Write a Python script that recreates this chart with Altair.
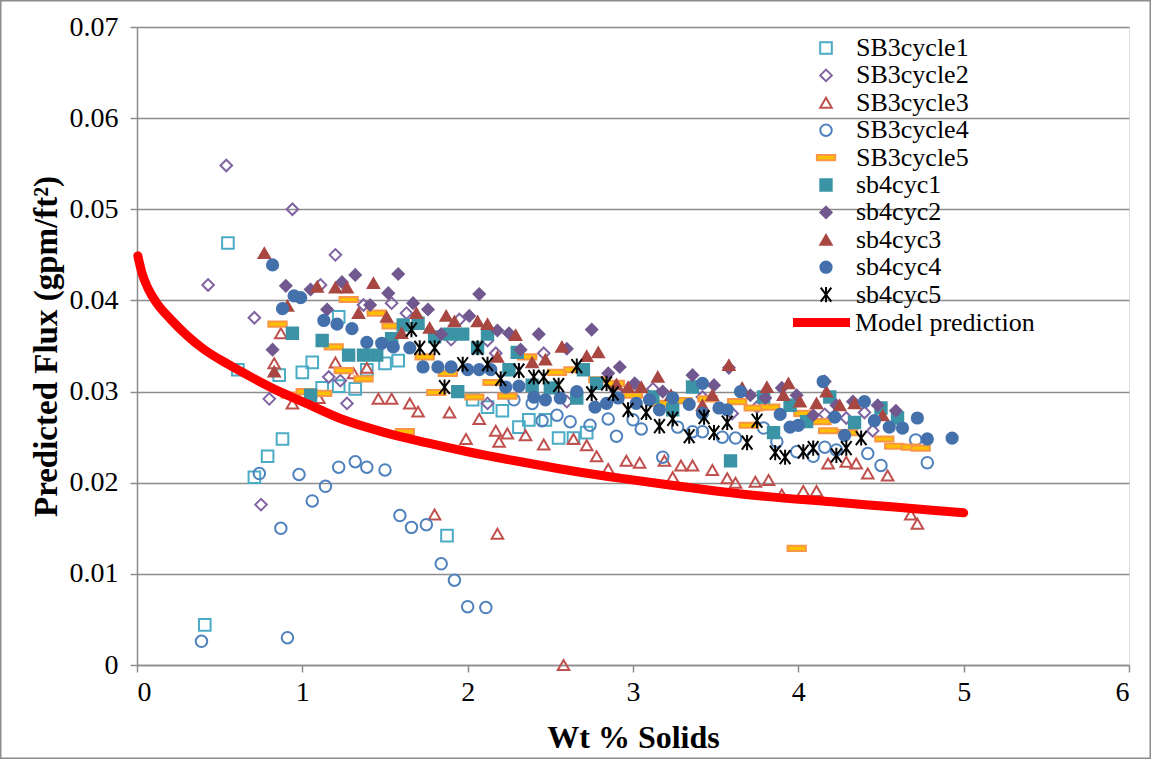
import altair as alt
import pandas as pd

# ---------------- data ----------------
series_names = ["SB3cycle1", "SB3cycle2", "SB3cycle3", "SB3cycle4", "SB3cycle5",
                "sb4cyc1", "sb4cyc2", "sb4cyc3", "sb4cyc4", "sb4cyc5"]

sb3c1_x = [0.41, 0.55, 0.61, 0.71, 0.79, 0.86, 0.88, 1.0, 1.06, 1.12, 1.22, 1.22, 1.32, 1.39, 1.5, 1.58,
           1.875, 2.03, 2.12, 2.21, 2.31, 2.37, 2.47, 2.55, 2.64, 2.72]
sb3c1_y = [0.0044, 0.0463, 0.0324, 0.0206, 0.0229, 0.0318, 0.0248, 0.0321, 0.0332, 0.0304, 0.0306, 0.0382,
           0.0303, 0.0324, 0.0331, 0.0334, 0.0142, 0.0291, 0.0283, 0.0279, 0.0261, 0.0269, 0.0269, 0.0249,
           0.0249, 0.0255]

sb3c2_x = [0.43, 0.54, 0.71, 0.75, 0.80, 0.94, 1.11, 1.16, 1.2, 1.23, 1.27, 1.37, 1.54, 1.63, 1.9, 1.95,
           2.12, 2.12, 2.17, 2.46, 2.6, 2.9, 3.12, 3.42, 3.6, 3.75, 4.16, 4.29, 4.4, 4.45]
sb3c2_y = [0.0417, 0.0548, 0.0381, 0.0176, 0.0292, 0.0500, 0.0417, 0.0316, 0.0450, 0.0312, 0.0287, 0.0395,
           0.0397, 0.0386, 0.0357, 0.0379, 0.0356, 0.0287, 0.0342, 0.0342, 0.0289, 0.0300, 0.0303, 0.0294,
           0.0276, 0.0283, 0.0275, 0.0271, 0.0277, 0.0257]

sb3c3_x = [0.83, 0.87, 0.94, 1.1, 1.2, 1.31, 1.39, 1.46, 1.54, 1.65, 1.7, 1.8, 1.89, 1.99, 2.07, 2.17, 2.18,
           2.19, 2.24, 2.35, 2.46, 2.58, 2.64, 2.72, 2.78, 2.85, 2.96, 3.04, 3.19, 3.24, 3.29, 3.36, 3.48,
           3.57, 3.62, 3.74, 3.82, 3.9, 4.03, 4.11, 4.18, 4.29, 4.35, 4.42, 4.54, 4.68, 4.72]
sb3c3_y = [0.0331, 0.0364, 0.0287, 0.0293, 0.0332, 0.0320, 0.0326, 0.0292, 0.0292, 0.0287, 0.0278, 0.0165,
           0.0277, 0.0248, 0.0270, 0.0257, 0.0144, 0.0245, 0.0254, 0.0252, 0.0242, 0.0, 0.0248, 0.0241,
           0.0229, 0.0215, 0.0224, 0.0222, 0.0224, 0.0206, 0.0219, 0.0219, 0.0214, 0.0205, 0.0200, 0.0201,
           0.0203, 0.0187, 0.0191, 0.0191, 0.0221, 0.0223, 0.0221, 0.0210, 0.0208, 0.0165, 0.0155]

sb3c4_x = [0.39, 0.74, 0.87, 0.91, 0.98, 1.06, 1.14, 1.22, 1.32, 1.39, 1.5, 1.59, 1.66, 1.75, 1.84, 1.92,
           2.0, 2.11, 2.28, 2.39, 2.45, 2.54, 2.62, 2.74, 2.85, 2.9, 3.0, 3.05, 3.18, 3.27, 3.36, 3.42,
           3.54, 3.62, 3.79, 3.87, 3.99, 4.09, 4.16, 4.23, 4.42, 4.5, 4.71, 4.78]
sb3c4_y = [0.0026, 0.0210, 0.0150, 0.0030, 0.0209, 0.0180, 0.0196, 0.0217, 0.0223, 0.0217, 0.0214, 0.0164,
           0.0151, 0.0154, 0.0111, 0.0093, 0.0064, 0.0063, 0.0291, 0.0287, 0.0268, 0.0274, 0.0267, 0.0263,
           0.0270, 0.0251, 0.0269, 0.0259, 0.0228, 0.0261, 0.0256, 0.0256, 0.0250, 0.0249, 0.0260, 0.0245,
           0.0234, 0.0229, 0.0239, 0.0236, 0.0232, 0.0219, 0.0247, 0.0222]

sb3c5_x = [0.85, 0.93, 1.02, 1.12, 1.19, 1.25, 1.28, 1.37, 1.45, 1.54, 1.62, 1.74, 1.81, 1.88, 2.04, 2.15,
           2.24, 2.36, 2.54, 2.64, 2.79, 2.89, 3.0, 3.16, 3.3, 3.45, 3.63, 3.7, 3.73, 3.83, 3.99, 4.03,
           4.14, 4.18, 4.3, 4.52, 4.58, 4.68, 4.74]
sb3c5_y = [0.0374, 0.0296, 0.0300, 0.0298, 0.0349, 0.0323, 0.0401, 0.0314, 0.0386, 0.0372, 0.0256, 0.0338,
           0.0299, 0.0320, 0.0294, 0.0310, 0.0295, 0.0338, 0.0321, 0.0324, 0.0313, 0.0309, 0.0296, 0.0287,
           0.0290, 0.0292, 0.0289, 0.0263, 0.0282, 0.0283, 0.0128, 0.0276, 0.0267, 0.0257, 0.0255, 0.0248,
           0.0240, 0.0239, 0.0238]

sb4c1_x = [0.94, 1.05, 1.12, 1.28, 1.37, 1.45, 1.54, 1.61, 1.7, 1.8, 1.89, 1.94, 1.97, 2.06, 2.12, 2.25,
           2.3, 2.39, 2.5, 2.66, 2.7, 2.78, 3.12, 3.24, 3.36, 3.59, 3.79, 3.85, 3.95, 4.05, 4.19, 4.34,
           4.5, 4.6]
sb4c1_y = [0.0364, 0.0296, 0.0356, 0.0340, 0.0340, 0.0340, 0.0358, 0.0373, 0.0375, 0.0360, 0.0363, 0.0300,
           0.0363, 0.0348, 0.0363, 0.0324, 0.0343, 0.0307, 0.0304, 0.0293, 0.0324, 0.0309, 0.0294, 0.0280,
           0.0305, 0.0224, 0.0294, 0.0255, 0.0285, 0.0267, 0.0294, 0.0266, 0.0282, 0.0271]

sb4c2_x = [0.82, 0.9, 1.05, 1.15, 1.24, 1.32, 1.41, 1.52, 1.58, 1.67, 1.76, 1.84, 2.01, 2.07, 2.18, 2.25,
           2.32, 2.43, 2.6, 2.75, 2.85, 2.92, 3.01, 3.18, 3.36, 3.49, 3.58, 3.71, 3.8, 3.9, 3.99, 4.09,
           4.16, 4.23, 4.33, 4.48, 4.59]
sb4c2_y = [0.0346, 0.0416, 0.0412, 0.0390, 0.0420, 0.0428, 0.0395, 0.0408, 0.0429, 0.0397, 0.0390, 0.0363,
           0.0383, 0.0407, 0.0367, 0.0364, 0.0346, 0.0363, 0.0347, 0.0368, 0.0320, 0.0327, 0.0309, 0.0300,
           0.0318, 0.0307, 0.0326, 0.0296, 0.0293, 0.0304, 0.0296, 0.0274, 0.0311, 0.0285, 0.0289, 0.0285,
           0.0279]

sb4c3_x = [0.77, 0.83, 0.91, 1.09, 1.2, 1.27, 1.34, 1.43, 1.51, 1.6, 1.69, 1.77, 1.87, 1.92, 2.06, 2.12,
           2.18, 2.29, 2.39, 2.47, 2.57, 2.72, 2.79, 2.9, 2.97, 3.05, 3.15, 3.23, 3.42, 3.48, 3.58, 3.66,
           3.81, 3.91, 3.94, 4.01, 4.11, 4.17, 4.25, 4.34, 4.51]
sb4c3_y = [0.0452, 0.0322, 0.0394, 0.0415, 0.0414, 0.0414, 0.0386, 0.0419, 0.0382, 0.0364, 0.0386, 0.0370,
           0.0383, 0.0377, 0.0377, 0.0374, 0.0338, 0.0362, 0.0332, 0.0335, 0.0349, 0.0339, 0.0343, 0.0308,
           0.0305, 0.0305, 0.0316, 0.0296, 0.0285, 0.0296, 0.0329, 0.0304, 0.0305, 0.0296, 0.0309, 0.0289,
           0.0287, 0.0300, 0.0285, 0.0287, 0.0274]

sb4c4_x = [0.82, 0.88, 0.95, 0.99, 1.13, 1.21, 1.3, 1.39, 1.48, 1.55, 1.65, 1.73, 1.82, 1.9, 2.0, 2.07,
           2.14, 2.23, 2.31, 2.4, 2.47, 2.56, 2.66, 2.77, 2.84, 2.91, 3.02, 3.1, 3.16, 3.24, 3.34, 3.42,
           3.42, 3.52, 3.57, 3.65, 3.89, 3.95, 4.0, 4.15, 4.22, 4.28, 4.4, 4.46, 4.55, 4.63, 4.72, 4.78, 4.93]
sb4c4_y = [0.0439, 0.0391, 0.0405, 0.0403, 0.0378, 0.0374, 0.0369, 0.0354, 0.0353, 0.0349, 0.0348, 0.0327,
           0.0327, 0.0327, 0.0324, 0.0324, 0.0324, 0.0305, 0.0306, 0.0294, 0.0291, 0.0293, 0.0300, 0.0283,
           0.0287, 0.0293, 0.0287, 0.0291, 0.0280, 0.0293, 0.0286, 0.0309, 0.0276, 0.0282, 0.0280, 0.0300,
           0.0275, 0.0261, 0.0263, 0.0311, 0.0272, 0.0252, 0.0289, 0.0268, 0.0261, 0.0260, 0.0271, 0.0248,
           0.0249]

sb4c5_x = [1.66, 1.71, 1.8, 1.86, 1.97, 2.06, 2.12, 2.2, 2.31, 2.4, 2.46, 2.55, 2.66, 2.75, 2.84, 2.88,
           2.97, 3.08, 3.16, 3.24, 3.34, 3.43, 3.49, 3.57, 3.69, 3.75, 3.86, 3.92, 4.03, 4.09, 4.23, 4.29, 4.38]
sb4c5_y = [0.0368, 0.0348, 0.0348, 0.0305, 0.0330, 0.0348, 0.0330, 0.0314, 0.0323, 0.0316, 0.0316, 0.0307,
           0.0328, 0.0298, 0.0309, 0.0298, 0.0280, 0.0277, 0.0262, 0.0270, 0.0251, 0.0272, 0.0255, 0.0266,
           0.0244, 0.0268, 0.0233, 0.0228, 0.0234, 0.0238, 0.0230, 0.0238, 0.0249]

model_x = [0.005, 0.03, 0.07, 0.12, 0.2, 0.3, 0.4, 0.55, 0.7, 0.85, 1.0, 1.25, 1.5, 1.75, 2.0, 2.32, 2.6,
           2.92, 3.2, 3.5, 3.8, 4.2, 4.6, 5.0]
model_y = [0.0449, 0.0430, 0.0412, 0.0397, 0.0380, 0.0362, 0.0347, 0.0330, 0.0315, 0.0301, 0.0289, 0.0269,
           0.0255, 0.0244, 0.0234, 0.0223, 0.0214, 0.0205, 0.0198, 0.0191, 0.0185, 0.0179, 0.0173, 0.0167]

x_ticks = [0, 1, 2, 3, 4, 5, 6]
y_ticks = [0, 0.01, 0.02, 0.03, 0.04, 0.05, 0.06, 0.07]

# ---------------- styling ----------------
DASH = "M-1.6,-0.45L1.6,-0.45L1.6,0.45L-1.6,0.45Z"
ASTER = "M-0.95,-1.25L0.95,1.25M-0.95,1.25L0.95,-1.25M0,-1.35L0,1.35"
shapes = ["square", "diamond", "triangle-up", "circle", DASH,
          "square", "diamond", "triangle-up", "circle", ASTER]
strokes = ["#4BACC6", "#8064A2", "#C0504D", "#4F81BD", "#F79646",
           "#3B94A6", "#71588F", "#A94743", "#4471AB", "#000000"]
fills = ["transparent", "transparent", "transparent", "transparent", "#FFC000",
         "#3B94A6", "#71588F", "#A94743", "#4471AB", "transparent"]
sizes = [135, 125, 125, 125, 400, 170, 160, 170, 200, 240]
widths = [2, 2, 2, 2, 1.5, 1, 1, 1, 1, 2.6]
FONT = "Liberation Serif"
GRID = "#8C8C8C"

xs = [sb3c1_x, sb3c2_x, sb3c3_x, sb3c4_x, sb3c5_x, sb4c1_x, sb4c2_x, sb4c3_x, sb4c4_x, sb4c5_x]
ys = [sb3c1_y, sb3c2_y, sb3c3_y, sb3c4_y, sb3c5_y, sb4c1_y, sb4c2_y, sb4c3_y, sb4c4_y, sb4c5_y]
rows = []
for name, sx, sy in zip(series_names, xs, ys):
    for a, b in zip(sx, sy):
        rows.append({"series": name, "x": a, "y": b})
pts = pd.DataFrame(rows)
pts["order"] = range(len(pts))
model = pd.DataFrame({"x": model_x, "y": model_y, "model": "Model prediction"})

xscale = alt.Scale(domain=[0, 6], nice=False)
yscale = alt.Scale(domain=[0, 0.07], nice=False)

xaxis = alt.Axis(values=x_ticks, format="d", grid=False, title="Wt % Solids",
                 tickSize=7, tickColor=GRID, tickWidth=1.5, domainColor=GRID, domainWidth=1.5,
                 labelFont=FONT, labelFontSize=28, labelColor="black", labelPadding=6,
                 titleFont=FONT, titleFontSize=32, titleFontWeight="bold", titleColor="black",
                 titlePadding=16)
yaxis = alt.Axis(values=y_ticks, format=".2~f", grid=True, gridColor=GRID, gridWidth=1.5,
                 title="Predicted Flux (gpm/ft²)",
                 tickSize=7, tickColor=GRID, tickWidth=1.5, domainColor=GRID, domainWidth=1.5,
                 labelFont=FONT, labelFontSize=28, labelColor="black", labelPadding=12,
                 titleFont=FONT, titleFontSize=33, titleFontWeight="bold", titleColor="black",
                 titlePadding=6)

legend_pts = alt.Legend(title=None, orient="none", legendX=676, legendY=8,
                        labelFont=FONT, labelFontSize=26, labelColor="black",
                        rowPadding=1.4, labelOffset=17, padding=0, labelLimit=400)

points = alt.Chart(pts).mark_point(opacity=1).encode(
    x=alt.X("x:Q", scale=xscale, axis=xaxis),
    y=alt.Y("y:Q", scale=yscale, axis=yaxis),
    shape=alt.Shape("series:N", scale=alt.Scale(domain=series_names, range=shapes), legend=legend_pts),
    stroke=alt.Stroke("series:N", scale=alt.Scale(domain=series_names, range=strokes), legend=legend_pts),
    fill=alt.Fill("series:N", scale=alt.Scale(domain=series_names, range=fills), legend=legend_pts),
    size=alt.Size("series:N", scale=alt.Scale(domain=series_names, range=sizes), legend=legend_pts),
    strokeWidth=alt.StrokeWidth("series:N", scale=alt.Scale(domain=series_names, range=widths),
                                legend=legend_pts),
    order=alt.Order("order:Q"),
)

legend_line = alt.Legend(title=None, orient="none", legendX=651, legendY=262,
                         labelFont=FONT, labelFontSize=26, labelColor="black",
                         symbolType="stroke", symbolSize=3250, symbolStrokeWidth=9,
                         labelOffset=0, padding=0, labelLimit=400)

line = alt.Chart(model).mark_line(strokeWidth=9, strokeCap="round", interpolate="monotone").encode(
    x=alt.X("x:Q", scale=xscale),
    y=alt.Y("y:Q", scale=yscale),
    color=alt.Color("model:N", scale=alt.Scale(domain=["Model prediction"], range=["#FF0000"]),
                    legend=legend_line),
)

frame = alt.Chart(pd.DataFrame({"k": [0]})).mark_rect(fill=None, stroke=GRID, strokeWidth=1.5).encode(
    x=alt.value(-136.25), x2=alt.value(1013.25), y=alt.value(-26.25), y2=alt.value(731.25)
)

chart = alt.layer(points, line, frame).properties(
    width=992, height=638,
    padding={"left": 137, "top": 27, "right": 22, "bottom": 94},
    autosize=alt.AutoSizeParams(type="none"),
).configure_view(stroke=None).configure(background="white")

chart.save("out.html", embed_options={"renderer": "svg", "actions": False})
